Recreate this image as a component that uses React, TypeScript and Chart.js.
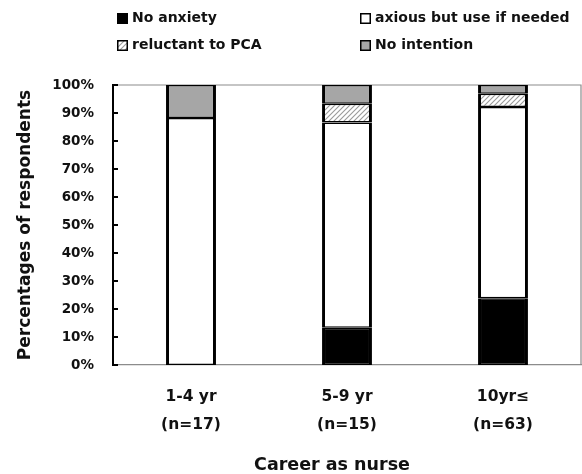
import { useEffect, useRef } from "react";
import { Chart, registerables } from "chart.js";

Chart.register(...registerables);

const categories = [
  ["1-4 yr", "(n=17)"],
  ["5-9 yr", "(n=15)"],
  ["10yr≤", "(n=63)"],
];
const seriesLabels = ["No anxiety", "axious but use if needed", "reluctant to PCA", "No intention"];
const noAnxiety = [0, 13.3, 23.8];
const anxious = [88.2, 73.3, 68.3];
const reluctant = [0, 6.7, 4.8];
const noIntention = [11.8, 6.7, 3.1];
const yTitle = "Percentages of respondents";
const xTitle = "Career as nurse";

const FONT = "'DejaVu Sans', sans-serif";

function makeHatch(): CanvasPattern | string {
  const c = document.createElement("canvas");
  c.width = 5;
  c.height = 5;
  const g = c.getContext("2d");
  if (!g) return "#ddd";
  g.fillStyle = "#fff";
  g.fillRect(0, 0, 5, 5);
  g.strokeStyle = "#9a9a9a";
  g.lineWidth = 1.1;
  g.beginPath();
  g.moveTo(-1, 6);
  g.lineTo(6, -1);
  g.moveTo(-3.5, 3.5);
  g.lineTo(3.5, -3.5);
  g.moveTo(1.5, 8.5);
  g.lineTo(8.5, 1.5);
  g.stroke();
  const p = g.createPattern(c, "repeat");
  return p || "#ddd";
}

const framePlugin = {
  id: "frame",
  beforeDatasetsDraw(chart: any) {
    const { ctx, chartArea } = chart;
    ctx.save();
    ctx.strokeStyle = "#8c8c8c";
    ctx.lineWidth = 1.2;
    ctx.beginPath();
    ctx.moveTo(chartArea.left, chartArea.top);
    ctx.lineTo(chartArea.right, chartArea.top);
    ctx.lineTo(chartArea.right, chartArea.bottom);
    ctx.stroke();
    ctx.restore();
  },
  afterDraw(chart: any) {
    const { ctx, chartArea } = chart;
    const y = chart.scales.y;
    ctx.save();
    ctx.strokeStyle = "#000";
    ctx.lineWidth = 2;
    y.ticks.forEach((t: any) => {
      const py = y.getPixelForValue(t.value);
      ctx.beginPath();
      ctx.moveTo(chartArea.left, py);
      ctx.lineTo(chartArea.left + 5, py);
      ctx.stroke();
    });
    ctx.fillStyle = "#111";
    ctx.font = `bold 17.5px ${FONT}`;
    ctx.textAlign = "center";
    ctx.textBaseline = "middle";
    ctx.fillText(xTitle, (chartArea.left + chartArea.right) / 2 - 15, 465);
    const cols = [117, 360];
    const rows = [18.5, 45.5];
    chart.data.datasets.forEach((ds: any, i: number) => {
      const x = cols[i % 2];
      const cy = rows[Math.floor(i / 2)];
      ctx.fillStyle = ds.backgroundColor;
      ctx.fillRect(x, cy - 5.5, 11, 11);
      ctx.strokeStyle = "#000";
      ctx.lineWidth = 1.5;
      ctx.strokeRect(x + 0.75, cy - 4.75, 9.5, 9.5);
      ctx.fillStyle = "#111";
      ctx.font = `bold 14px ${FONT}`;
      ctx.textAlign = "left";
      ctx.textBaseline = "middle";
      ctx.fillText(ds.label, x + 15, cy);
    });
    ctx.restore();
  },
};

export default function App() {
  const ref = useRef<HTMLCanvasElement | null>(null);
  useEffect(() => {
    document.body.style.margin = "0";
    if (!ref.current) return;
    const hatch = makeHatch();
    const bw = (ctx: any) =>
      ctx.raw ? { left: 3, right: 3, top: 1.5, bottom: 1.5 } : 0;
    const chart = new Chart(ref.current, {
      type: "bar",
      data: {
        labels: categories,
        datasets: [
          { label: seriesLabels[0], data: noAnxiety, backgroundColor: "#000" },
          { label: seriesLabels[1], data: anxious, backgroundColor: "#fff" },
          { label: seriesLabels[2], data: reluctant, backgroundColor: hatch as any },
          { label: seriesLabels[3], data: noIntention, backgroundColor: "#a6a6a6" },
        ].map((d) => ({
          ...d,
          borderColor: "#000",
          borderWidth: bw,
          borderSkipped: false,
          categoryPercentage: 1,
          barPercentage: 0.32,
        })) as any,
      },
      plugins: [framePlugin],
      options: {
        responsive: false,
        animation: false,
        layout: { padding: { top: 85, right: 1, left: 0, bottom: 0 } },
        plugins: { legend: { display: false }, tooltip: { enabled: false } },
        scales: {
          x: {
            stacked: true,
            grid: { display: false, drawTicks: false },
            border: { display: true, color: "#8c8c8c", width: 1.2 },
            ticks: {
              color: "#111",
              padding: 18,
              font: { family: FONT, size: 15.5, weight: "bold", lineHeight: 1.8 },
              maxRotation: 0,
            },
            afterFit: (s: any) => {
              s.height = 109;
            },
          },
          y: {
            stacked: true,
            min: 0,
            max: 100,
            grid: { display: false, drawTicks: false },
            border: { display: true, color: "#000", width: 2 },
            ticks: {
              stepSize: 10,
              color: "#111",
              padding: 19,
              font: { family: FONT, size: 13.5, weight: "bold" },
              callback: (v: any) => v + "%",
            },
            title: {
              display: true,
              text: yTitle,
              color: "#111",
              font: { family: FONT, size: 17, weight: "bold", lineHeight: 1.2 },
              padding: { top: 15, bottom: 0 },
            },
            afterFit: (s: any) => {
              s.width = 113;
            },
          },
        },
      },
    });
    return () => chart.destroy();
  }, []);
  return <canvas ref={ref} width={582} height={474} style={{ display: "block" }} />;
}
